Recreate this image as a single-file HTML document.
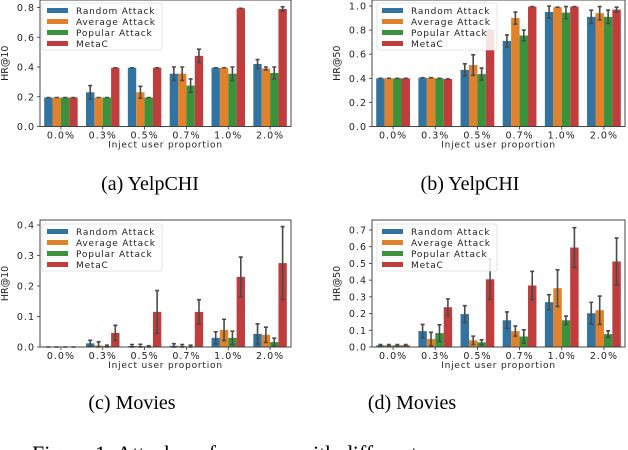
<!DOCTYPE html>
<html><head><meta charset="utf-8">
<style>
body{margin:0;background:#fff;width:628px;height:450px;overflow:hidden;position:relative}
svg{position:absolute;left:0;top:0}
text{font-family:"DejaVu Sans","Liberation Sans",sans-serif}
.cap{font-family:"Liberation Serif",serif;font-size:20px}
</style></head>
<body>
<svg id="fig" width="628" height="450">
<text class="cap" x="150" y="190" text-anchor="middle">(a) YelpCHI</text>
<text class="cap" x="470" y="190" text-anchor="middle">(b) YelpCHI</text>
<text class="cap" x="132" y="409" text-anchor="middle">(c) Movies</text>
<text class="cap" x="412" y="409" text-anchor="middle">(d) Movies</text>
<text class="cap" x="32" y="461" style="font-size:22px">Figure 1: Attack performance with different</text>
</svg>
<script>
const categories = ["0.0%","0.3%","0.5%","0.7%","1.0%","2.0%"];
const seriesNames = ["Random Attack","Average Attack","Popular Attack","MetaC"];
const colors = ["#3274a1","#e1812c","#3a923a","#c03d3e"];

const aRandom=[.195,.23,.395,.355,.395,.42], aAverage=[.195,.195,.23,.355,.395,.39], aPopular=[.195,.195,.195,.275,.355,.36], aMetaC=[.195,.395,.395,.475,.795,.79];
const aErrR=[0,.045,0,.045,0,.03], aErrA=[0,0,.04,.045,0,.01], aErrP=[0,0,0,.045,.045,.04], aErrM=[0,0,0,.045,0,.015];
const aTicks=[0,.2,.4,.6,.8];

const bRandom=[.40,.405,.47,.71,.95,.91], bAverage=[.40,.405,.51,.90,.99,.94], bPopular=[.40,.40,.435,.755,.945,.91], bMetaC=[.40,.395,.80,.995,.995,.97];
const bErrR=[0,0,.05,.05,.05,.055], bErrA=[0,0,.085,.05,0,.055], bErrP=[0,0,.05,.045,.05,.055], bErrM=[0,0,0,0,0,.02];
const bTicks=[0,.2,.4,.6,.8,1.0];

const cRandom=[0,.012,.003,.004,.03,.043], cAverage=[0,.005,.003,.003,.056,.04], cPopular=[0,.003,.002,.002,.03,.016], cMetaC=[0,.046,.115,.115,.23,.275];
const cErrR=[0,.01,.005,.007,.02,.033], cErrA=[0,.012,.006,.005,.035,.025], cErrP=[0,.003,.002,.004,.022,.013], cErrM=[0,.025,.07,.04,.065,.12];
const cTicks=[0,.1,.2,.3,.4];

const dRandom=[.01,.095,.197,.16,.268,.202], dAverage=[.01,.048,.04,.095,.352,.22], dPopular=[.01,.083,.028,.063,.16,.077], dMetaC=[.01,.238,.405,.368,.595,.512];
const dErrR=[.005,.04,.05,.05,.045,.065], dErrA=[.005,.04,.025,.03,.11,.085], dErrP=[.005,.05,.015,.04,.025,.02], dErrM=[.005,.05,.12,.085,.12,.14];
const dTicks=[0,.1,.2,.3,.4,.5,.6,.7];

const NS="http://www.w3.org/2000/svg";
const svg=document.getElementById('fig');
function mk(tag,attrs,parent){const e=document.createElementNS(NS,tag);for(const k in attrs)e.setAttribute(k,attrs[k]);(parent||svg).appendChild(e);return e;}

function chart(id,L,R,T,B,yMax,yTopPx,ticks,ylabel,vals,errs,legX,legY){
  const g=mk('g',{});
  
  
  const y=v=>B-(v/yMax)*(B-yTopPx);
  const gw=(R-L)/6, bw=gw*0.8/4;
  const xc=i=>L+gw*(i+0.5);
  ticks.forEach(t=>{
    const l=mk('line',{x1:L-3,x2:L,y1:y(t),y2:y(t),stroke:'#333','stroke-width':0.8},g);
    
    
    const tx=mk('text',{x:L-5,y:y(t)+3.5,'font-size':9.5,'letter-spacing':1,'text-anchor':'end',fill:'#222'},g);
    
    
    tx.textContent=t.toFixed(1);
  });
  vals.forEach((arr,s)=>{
    arr.forEach((v,i)=>{
      const x=xc(i)-gw*0.4+s*bw;
      const r=mk('rect',{x:x,y:y(v),width:bw,height:B-y(v),fill:colors[s]},g);
      
      
    });
  });
  vals.forEach((arr,s)=>{
    arr.forEach((v,i)=>{
      const e=errs[s][i];const cx=xc(i)-gw*0.4+s*bw+bw/2;
      const y1=y(Math.min(v+e,yMax*1.02)),y2=y(Math.max(v-e,0));
      const eb=mk('path',{d:`M${cx},${y1}V${y2}M${cx-2},${y1}H${cx+2}M${cx-2},${y2}H${cx+2}`,stroke:'#4a4a4a','stroke-width':1.6,fill:'none'},g);
      
      
    });
  });
  categories.forEach((c,i)=>{
    const l=mk('line',{x1:xc(i),x2:xc(i),y1:B,y2:B+3,stroke:'#333','stroke-width':0.8},g);
    
    
    const t=mk('text',{x:xc(i),y:B+12,'font-size':9.5,'letter-spacing':1,'text-anchor':'middle',fill:'#222'},g);
    
    
    t.textContent=c;
  });
  const xl=mk('text',{x:(L+R)/2,y:B+21,'font-size':9,'letter-spacing':0.8,'text-anchor':'middle',fill:'#222'},g);
  
  
  xl.textContent='Inject user proportion';
  const yl=mk('text',{x:0,y:0,'font-size':9.5,'text-anchor':'middle',fill:'#222',transform:`translate(${L-32},${(T+B)/2}) rotate(-90)`},g);
  
  
  yl.textContent=ylabel;
  const fr=mk('rect',{x:L,y:T,width:R-L,height:B-T,fill:'none',stroke:'#333','stroke-width':0.9},g);
  
  
  const lg=mk('g',{},g);
  
  
  mk('rect',{x:legX,y:legY,width:120,height:47,fill:'#fff','fill-opacity':0.85,stroke:'#ddd','stroke-width':0.8,rx:2},lg);
  seriesNames.forEach((n,s)=>{
    const sw=mk('rect',{x:legX+5,y:legY+5+s*11,width:21,height:5,fill:colors[s]},lg);
    
    
    const t=mk('text',{x:legX+34,y:legY+11+s*11,'font-size':9,'letter-spacing':0.8,fill:'#222'},lg);
    
    
    t.textContent=n;
  });
}
chart('a',40,291,0,126.5,0.8,7.5,aTicks,'HR@10',[aRandom,aAverage,aPopular,aMetaC],[aErrR,aErrA,aErrP,aErrM],42,3);
chart('b',372,625,0,126.5,1.0,6,bTicks,'HR@50',[bRandom,bAverage,bPopular,bMetaC],[bErrR,bErrA,bErrP,bErrM],377,3);
chart('c',40,291,220,347,0.4,225,cTicks,'HR@10',[cRandom,cAverage,cPopular,cMetaC],[cErrR,cErrA,cErrP,cErrM],42,224);
chart('d',372,625,220,347,0.7,230,dTicks,'HR@50',[dRandom,dAverage,dPopular,dMetaC],[dErrR,dErrA,dErrP,dErrM],377,224);
</script>
</body></html>
